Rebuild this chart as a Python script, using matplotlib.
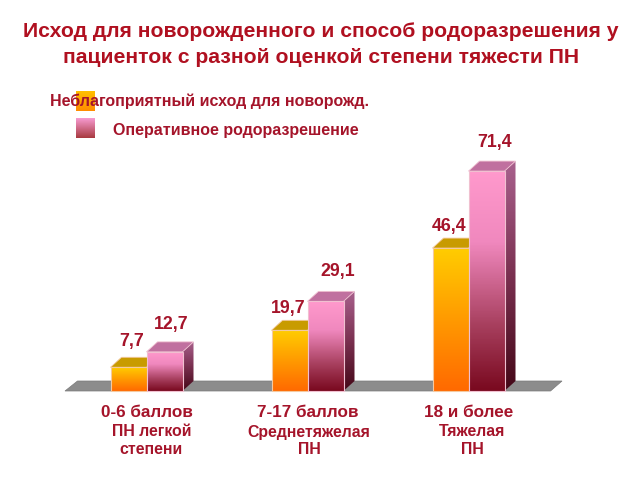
from matplotlib import pyplot as plt
from matplotlib.colors import LinearSegmentedColormap
from matplotlib.patches import Polygon
from matplotlib.transforms import Affine2D
import numpy as np

# Data
groups = ["0-6 баллов", "7-17 баллов", "18 и более"]
subgroups = ["ПН легкой\nстепени", "Среднетяжелая\nПН", "Тяжелая\nПН"]
adverse = [7.7, 19.7, 46.4]
operative = [12.7, 29.1, 71.4]
adverse_labels = ["7,7", "19,7", "46,4"]
operative_labels = ["12,7", "29,1", "71,4"]

plt.rcParams['font.family'] = ['Liberation Sans', 'DejaVu Sans']
text_color = "#A5142A"
title_color = "#B01020"

fig = plt.figure(figsize=(6.4, 4.8), dpi=100)
ax = fig.add_axes([0, 0, 1, 1])
ax.axis('off')

# one x unit = group spacing, one y unit = 3.08 px, baseline at pixel row 391
px_x = 1 / 161
px_y = 1 / 3.08
xlim = (-146.5 * px_x, (640 - 146.5) * px_x)
ylim = (-89 * px_y, 391 * px_y)
bar_w = 36 * px_x
depth_x = 11 * px_x
depth_y = 10 * px_y

# label nudges in pixels, labels are hand placed in the original
adverse_dx = [-14.5, -19.5, -19.5]
adverse_dy = [26, 22, 22]
operative_dx = [24.5, 30.5, 26.5]
operative_dy = [27, 30, 29]
subgroup_dx = [5, 1.5, 3.5]

orange_front = LinearSegmentedColormap.from_list("o", ["#FF6A00", "#FF9A00", "#FFCC00"])
pink_front = LinearSegmentedColormap.from_list(
    "p", [(0, "#7A0A20"), (0.3, "#A8405F"), (0.68, "#F088BE"), (1, "#FF99CC")])
pink_side = LinearSegmentedColormap.from_list("ps", ["#450818", "#7A3050", "#A8608C"])
orange_side = LinearSegmentedColormap.from_list("os", ["#8A4A00", "#C89B00"])


def gradient(poly, cmap, extent, transform=None, zorder=3):
    patch = Polygon(poly, closed=True, facecolor='none', edgecolor='none',
                    transform=transform or ax.transData)
    ax.add_patch(patch)
    im = ax.imshow(np.linspace(1, 0, 64).reshape(-1, 1), cmap=cmap, extent=extent,
                   aspect='auto', zorder=zorder, interpolation='bilinear', vmin=0, vmax=1)
    if transform is not None:
        im.set_transform(transform)
    im.set_clip_path(patch)
    return im


def draw_bar(x0, h, front, side, top_color, edge, z):
    x1 = x0 + bar_w
    gradient([(x0, 0), (x1, 0), (x1, h), (x0, h)], front, (x0, x1, 0, h), zorder=z)
    gradient([(x1, 0), (x1 + depth_x, depth_y), (x1 + depth_x, h + depth_y), (x1, h)],
             side, (x1, x1 + depth_x, 0, h + depth_y), zorder=z)
    ax.add_patch(Polygon([(x0, h), (x1, h), (x1 + depth_x, h + depth_y), (x0 + depth_x, h + depth_y)],
                         closed=True, facecolor=top_color, edgecolor=edge, linewidth=0.6, zorder=z))
    ax.add_patch(Polygon([(x0, 0), (x1, 0), (x1, h), (x0, h)], closed=True, facecolor='none',
                         edgecolor=edge, linewidth=0.8, zorder=z + 0.1))


# floor
ax.add_patch(Polygon([(-81.5 * px_x, 0), (404 * px_x, 0),
                      (415.5 * px_x, depth_y), (-69 * px_x, depth_y)],
                     closed=True, facecolor="#8C8C8C", edgecolor="#7A7A7A", linewidth=0.5, zorder=1))

positions = np.arange(len(groups))
for i in positions:
    draw_bar(i - bar_w, adverse[i], orange_front, orange_side, "#C89B00", "#F4C9A0", 3)
    draw_bar(i, operative[i], pink_front, pink_side, "#C0709F", "#F0C0D0", 4)
    ax.text(i + adverse_dx[i] * px_x, adverse[i] + adverse_dy[i] * px_y, adverse_labels[i],
            ha='center', va='center', fontsize=12.8, fontweight='bold', color=text_color, zorder=6)
    ax.text(i + operative_dx[i] * px_x, operative[i] + operative_dy[i] * px_y, operative_labels[i],
            ha='center', va='center', fontsize=12.8, fontweight='bold', color=text_color, zorder=6)
    ax.text(i, -21.5 * px_y, groups[i], ha='center', va='center', fontsize=12.3,
            fontweight='bold', color=text_color)
    ax.text(i + subgroup_dx[i] * px_x, -50 * px_y, subgroups[i], ha='center', va='center',
            fontsize=11.4, fontweight='bold', color=text_color, linespacing=1.25)

ax.set_xlim(xlim)
ax.set_ylim(ylim)

# legend swatches and labels, in image pixels (y going down)
px = Affine2D().scale(1, -1).translate(0, 480)
gradient([(76, 91), (95, 91), (95, 111), (76, 111)],
         LinearSegmentedColormap.from_list("lo", ["#FF8C00", "#FFC000"]),
         (76, 95, 111, 91), transform=px, zorder=2)
gradient([(76, 118), (95, 118), (95, 138), (76, 138)],
         LinearSegmentedColormap.from_list("lp", ["#A83A40", "#F79AD0"]),
         (76, 95, 138, 118), transform=px, zorder=2)
ax.text(50, 101, "Неблагоприятный исход для новорожд.", transform=px, ha='left', va='center',
        fontsize=11.5, fontweight='bold', color=text_color, zorder=6)
ax.text(113, 130, "Оперативное родоразрешение", transform=px, ha='left', va='center',
        fontsize=11.5, fontweight='bold', color=text_color, zorder=6)

fig.text(321 / 640, 1 - 44.5 / 480, "Исход для новорожденного и способ родоразрешения у\n"
         "пациенток с разной оценкой степени тяжести ПН", ha='center', va='center',
         fontsize=15.2, fontweight='bold', color=title_color, linespacing=1.42)

fig.savefig("out.png", dpi=100, facecolor='white')
